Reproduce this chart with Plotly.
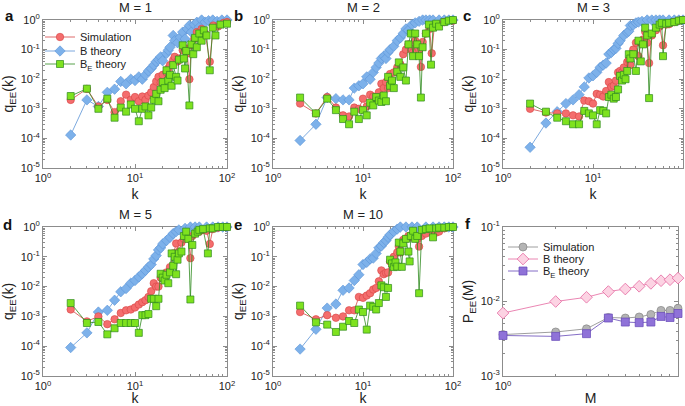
import plotly.graph_objects as go

# ---------------- data ----------------
# Panel a (M = 1)
k_a_sim = [2,3,4,5,6,7,8,9,10,11,12,13,14,15,16,17,18,19,20,22,23,24,26,27,29,30,33,35,37,39,41,44,47,50,53,58,65,71,80,92,100]
q_a_sim = [2e-3,4.7e-3,1.2e-3,2e-3,7.7e-4,1.8e-3,3e-3,2e-3,2.5e-3,1.8e-3,2.6e-3,2e-3,2.8e-3,3.6e-3,5.4e-3,8.4e-3,1.2e-2,7.7e-3,1.4e-2,1.7e-2,2.3e-2,3e-2,4.4e-2,5.7e-2,4e-2,5e-2,9.5e-2,0.11,0.074,1e-2,0.14,0.23,0.39,0.27,0.5,0.34,0.039,0.65,0.6,0.8,0.85]
k_a_b = [2,3,4,5,6,7,8,9,10,11,12,13,14,15,16,17,18,19,20,22,23,24,26,27,29,31,33,35,37,39,41,44,47,50,53,58,63,70,78,88,100]
q_a_b = [1.3e-4,2e-3,1.2e-3,3.6e-3,4.6e-3,8.4e-3,7e-3,1e-2,9e-3,1.2e-2,1e-2,1.4e-2,1.9e-2,2.3e-2,3e-2,3.9e-2,4.6e-2,5.7e-2,4.2e-2,7.4e-2,9.5e-2,0.12,0.3,0.2,0.17,0.26,0.39,0.23,0.5,0.65,0.39,0.7,0.84,0.57,1.0,0.85,0.95,1.0,0.9,1.0,1.0]
k_a_be = [2,3,4,5,6,7,8,9,10,11,12,13,14,15,16,17,18,19,20,21,22,23,24,25,26,28,29,30,33,34,35,36,39,41,43,45,47,50,53,56,60,65,70,75,85,100]
q_a_be = [2.7e-3,4.8e-3,1e-3,2.2e-3,5e-4,1.1e-3,8e-4,1.4e-3,1e-3,3.8e-4,1e-3,1.2e-3,6e-4,1.1e-3,2e-3,3.2e-3,1.8e-3,4.4e-3,8e-3,5e-3,2e-2,9e-3,1.4e-2,6e-3,3e-2,1.2e-2,9e-3,4.6e-2,0.14,0.05,0.023,0.09,1.3e-3,0.15,0.07,0.25,0.12,0.35,0.2,0.45,0.3,2e-2,0.55,0.3,0.7,0.75]

# Panel b (M = 2)
k_b_sim = [2,3,4,5,6,7,8,9,10,11,12,13,14,15,16,17,18,19,20,22,24,26,28,30,32,34,36,38,40,42,44,46,50,55,58,62,70,80,100]
q_b_sim = [1.5e-3,7e-4,2.5e-3,1.1e-3,6e-4,5.5e-4,1.1e-3,1e-3,2.2e-3,1.2e-3,3e-3,2.6e-3,2e-3,3.6e-3,7e-3,5e-3,8e-3,5e-3,1.5e-2,1.7e-2,2.5e-2,3.2e-2,7e-2,0.1,0.15,0.11,0.08,0.2,0.15,0.1,2.6e-2,0.18,0.35,0.5,7.5e-2,0.6,0.7,0.85,0.95]
k_b_b = [2,3,4,5,6,7,8,9,10,11,12,13,14,15,16,17,18,19,20,22,24,26,28,30,32,35,38,42,46,50,55,60,70,80,90,100]
q_b_b = [8.5e-5,3e-4,2.4e-3,2.2e-3,2e-3,2e-3,5e-3,6e-3,7e-3,1.2e-2,1e-2,1.7e-2,2.5e-2,3.5e-2,5e-2,6e-2,5e-2,8e-2,0.1,0.13,0.2,0.25,0.35,0.5,0.45,0.7,0.8,0.9,1.0,1.0,1.0,1.0,1.0,1.0,1.0,1.0]
k_b_be = [2,3,4,5,6,7,8,9,10,11,12,13,14,15,16,17,18,19,20,21,22,24,25,26,28,30,32,34,36,38,40,42,44,46,50,54,57,60,65,70,80,90,100]
q_b_be = [2.4e-3,7e-4,2.2e-3,9e-4,4.5e-4,3e-4,8e-4,4.5e-4,9e-4,6e-4,1.6e-3,1.3e-3,2.5e-3,1.9e-3,1.7e-3,2.8e-3,1.8e-3,1.2e-2,6e-3,9e-3,5e-3,1.8e-2,3.7e-2,1.2e-2,2.5e-2,9e-3,0.15,0.35,0.06,0.35,0.15,0.06,2.4e-3,0.12,0.35,0.7,3.1e-2,0.55,0.75,0.6,0.85,0.95,1.0]

# Panel c (M = 3)
k_c_sim = [2,3,4,5,6,7,8,9,10,11,12,13,14,15,16,17,18,19,20,21,22,24,25,26,28,30,32,34,36,38,40,42,45,50,55,60,65,70,80,90,100]
q_c_sim = [1e-3,7.5e-4,7e-4,7e-4,6e-4,5.5e-4,1.9e-3,1.8e-3,1.5e-3,3.2e-3,3e-3,2.6e-3,4e-3,8e-3,5.5e-3,6e-3,9e-3,1.7e-2,1.9e-2,1.7e-2,2.5e-2,3.8e-2,4.5e-2,3e-2,0.1,0.17,0.06,0.17,0.22,0.4,0.17,3.5e-2,0.3,0.45,0.6,0.14,0.7,0.72,0.85,0.95,1.0]
k_c_b = [2,3,4,5,6,7,8,9,10,11,12,13,14,15,16,17,18,19,20,22,24,25,26,28,30,32,35,40,45,50,55,60,70,80,90,100]
q_c_b = [5e-5,3.3e-4,8e-4,1.5e-3,2e-3,3e-3,5.5e-3,1.1e-2,1.3e-2,1.7e-2,2.5e-2,3e-2,3.5e-2,7e-2,8e-2,0.1,0.11,0.16,0.2,0.3,0.38,0.42,0.65,0.68,0.8,0.85,0.9,1.0,1.0,1.0,1.0,1.0,1.0,1.0,1.0,1.0]
k_c_be = [2,3,4,5,6,7,8,9,10,11,12,13,14,15,16,17,18,19,20,21,22,23,24,25,26,28,30,32,34,36,38,40,42,45,50,55,58,60,65,70,80,90,100]
q_c_be = [1.5e-3,8e-4,5e-4,3.8e-4,3e-4,3e-4,8.5e-4,7e-4,6e-4,3e-4,9e-4,8.5e-4,7e-4,2.5e-3,3e-3,2.2e-3,2.5e-3,4.5e-3,1.3e-2,9e-3,1.4e-2,1e-2,1.9e-2,7e-2,5e-2,7e-2,1.9e-2,0.2,4e-2,0.15,0.55,0.3,2.3e-3,0.35,0.55,0.7,0.8,6e-2,0.75,0.8,0.85,0.95,1.0]

# Panel d (M = 5)
k_d_sim = [2,3,4,5,6,7,8,9,10,11,12,13,14,15,16,17,18,19,20,22,24,26,28,30,32,34,36,38,40,42,45,50,55,60,65,70,80,100]
q_d_sim = [1.7e-3,6.8e-4,1e-3,5.5e-4,8e-4,1.3e-3,1.6e-3,1.7e-3,2e-3,2.5e-3,3e-3,3.5e-3,4.5e-3,7e-3,1.3e-2,1e-2,1e-2,2e-2,2.5e-2,3e-2,4.5e-2,0.13,0.28,0.15,0.3,0.4,0.6,0.4,9e-2,0.5,0.6,0.7,0.8,0.75,0.27,0.85,0.95,1.0]
k_d_b = [2,3,4,5,6,7,8,9,10,11,12,13,14,15,16,17,18,19,20,22,24,26,28,30,35,40,45,50,60,70,80,90,100]
q_d_b = [9e-5,2.8e-4,1.4e-3,1.6e-3,3.5e-3,6.7e-3,8.6e-3,1.3e-2,1.6e-2,2.1e-2,2.7e-2,3.5e-2,4.5e-2,5.5e-2,8.5e-2,0.11,0.17,0.2,0.27,0.35,0.45,0.6,0.7,0.8,0.9,1.0,1.0,1.0,1.0,1.0,1.0,1.0,1.0]
k_d_be = [2,3,4,5,6,7,8,9,10,11,12,13,14,15,16,17,18,19,20,21,22,23,24,25,26,27,28,29,30,32,34,36,38,40,42,45,48,50,55,62,65,70,80,90,100]
q_d_be = [2.8e-3,6e-4,6.5e-4,2.5e-4,4e-4,6e-4,6e-4,6e-4,6e-4,2.8e-4,1.1e-3,1.1e-3,1.2e-3,3.9e-3,3.9e-3,2.2e-3,3.9e-3,2.7e-2,2e-2,1.6e-2,2.5e-2,1.3e-2,3e-2,0.13,5e-2,0.1,2.6e-2,8e-2,0.13,0.15,0.5,0.7,0.4,3.7e-3,0.25,0.6,0.7,0.8,0.85,0.13,0.9,0.9,1.0,1.0,1.0]

# Panel e (M = 10)
k_e_sim = [2,3,4,5,6,7,8,9,10,11,12,13,14,15,16,17,18,19,20,22,24,25,26,28,30,32,34,36,38,40,42,45,50,60,65,70,80,100]
q_e_sim = [1.4e-3,8e-4,1.1e-3,9e-4,1e-3,1.6e-3,1.6e-3,4.5e-3,4.2e-3,5e-3,6e-3,8e-3,9e-3,1.5e-2,3.5e-2,2.6e-2,2.9e-2,3e-2,7e-2,0.1,0.14,0.22,0.14,0.37,0.4,0.5,0.45,0.55,0.5,0.4,0.22,0.5,0.6,0.6,0.65,0.7,0.9,1.0]
k_e_b = [2,3,4,5,6,7,8,9,10,11,12,13,14,15,16,17,18,19,20,22,24,26,30,35,40,50,60,70,80,90,100]
q_e_b = [8e-5,3.7e-4,1.9e-3,2.6e-3,7.5e-3,9e-3,1.6e-2,2.5e-2,5.5e-2,6.5e-2,8.5e-2,9e-2,0.13,0.2,0.23,0.3,0.35,0.45,0.55,0.7,0.85,1.0,1.0,1.0,1.0,1.0,1.0,1.0,1.0,1.0,1.0]
k_e_be = [2,3,4,5,6,7,8,9,10,11,12,13,14,15,16,17,18,19,20,21,22,23,24,25,26,27,28,30,32,33,34,36,38,40,42,45,50,55,60,65,70,80,90,100]
q_e_be = [2.3e-3,6.3e-4,5.3e-4,3e-4,4.5e-4,7e-4,6e-4,1.7e-3,1.4e-3,3.6e-4,2.3e-3,2.1e-3,1.7e-3,2.8e-3,1.1e-2,9.5e-3,4.5e-3,9e-3,8e-2,6e-2,4.5e-2,6.5e-2,4.7e-2,0.3,0.15,4.6e-2,0.28,0.4,0.15,7e-2,0.5,0.75,0.4,0.5,6e-3,0.8,0.85,0.9,0.45,0.9,0.95,0.95,1.0,1.0]

# Panel f
M_vals = [1,2,3,4,5,6,7,8,9,10]
p_sim = [3.6e-3,3.9e-3,4.3e-3,6.1e-3,6e-3,6.2e-3,6.7e-3,7.6e-3,7.6e-3,8.1e-3]
p_b = [7e-3,1e-2,1.14e-2,1.36e-2,1.47e-2,1.6e-2,1.75e-2,1.9e-2,1.96e-2,2.06e-2]
p_be = [3.5e-3,3.4e-3,3.7e-3,6e-3,5.3e-3,5.2e-3,5.3e-3,6.3e-3,6.1e-3,6.9e-3]

# tick labels
k_tickvals = [1, 10, 100]
k_ticktext = ["10<sup>0</sup>", "10<sup>1</sup>", "10<sup>2</sup>"]
q_tickvals = [1e-5, 1e-4, 1e-3, 1e-2, 1e-1, 1]
q_ticktext = ["10<sup>-5</sup>", "10<sup>-4</sup>", "10<sup>-3</sup>", "10<sup>-2</sup>", "10<sup>-1</sup>", "10<sup>0</sup>"]
m_tickvals = [1, 10]
m_ticktext = ["10<sup>0</sup>", "10<sup>1</sup>"]
p_tickvals = [1e-3, 1e-2, 1e-1]
p_ticktext = ["10<sup>-3</sup>", "10<sup>-2</sup>", "10<sup>-1</sup>"]

panel_letters = ["a", "b", "c", "d", "e", "f"]
panel_titles = ["M = 1", "M = 2", "M = 3", "M = 5", "M = 10"]
series_names = ["Simulation", "B theory", "B<sub>E</sub> theory"]

# ---------------- figure ----------------
W, H = 685, 406
FONT = "Liberation Sans, Arial, Helvetica, sans-serif"

def px_x(a, b):
    return [a / W, b / W]

def px_y(top, bottom):
    return [1 - bottom / H, 1 - top / H]

def minor_log(decades):
    # minor tick positions 2..9 times each decade start
    return [m * 10.0 ** d for d in decades for m in range(2, 10)]

x_doms = [px_x(43, 227), px_x(273, 453), px_x(503, 683),
          px_x(43, 227), px_x(273, 453), px_x(503, 678)]
y_doms = [px_y(20, 168)] * 3 + [px_y(227, 376)] * 3

RED, RED_E = "#f46d6d", "#d64545"
BLUE, BLUE_E = "#7db1ea", "#5b93d6"
GREEN, GREEN_E = "#7ee21e", "#2e8a1e"
GRAY, GRAY_E = "#b4b4b4", "#858585"
PINK, PINK_E = "#fcd3e3", "#e4679f"
PURP, PURP_E = "#8f72d8", "#6548b8"

fig = go.Figure()

data_panels = [
    (k_a_sim, q_a_sim, k_a_b, q_a_b, k_a_be, q_a_be),
    (k_b_sim, q_b_sim, k_b_b, q_b_b, k_b_be, q_b_be),
    (k_c_sim, q_c_sim, k_c_b, q_c_b, k_c_be, q_c_be),
    (k_d_sim, q_d_sim, k_d_b, q_d_b, k_d_be, q_d_be),
    (k_e_sim, q_e_sim, k_e_b, q_e_b, k_e_be, q_e_be),
]

for i, (ks, qs, kb, qb, kbe, qbe) in enumerate(data_panels):
    s = "" if i == 0 else str(i + 1)
    show = i == 0
    fig.add_trace(go.Scatter(
        x=kb, y=qb, mode="lines+markers", name=series_names[1], legend="legend2",
        showlegend=show, xaxis="x" + s, yaxis="y" + s, cliponaxis=False,
        line=dict(color=BLUE_E, width=0.8),
        marker=dict(symbol="diamond", size=8, color=BLUE, line=dict(color=BLUE_E, width=0.6))))
    fig.add_trace(go.Scatter(
        x=ks, y=qs, mode="lines+markers", name=series_names[0], legend="legend",
        showlegend=show, xaxis="x" + s, yaxis="y" + s, cliponaxis=False,
        line=dict(color=RED_E, width=0.8),
        marker=dict(symbol="circle", size=7.5, color=RED, line=dict(color=RED_E, width=0.6))))
    fig.add_trace(go.Scatter(
        x=kbe, y=qbe, mode="lines+markers", name=series_names[2], legend="legend3",
        showlegend=show, xaxis="x" + s, yaxis="y" + s, cliponaxis=False,
        line=dict(color=GREEN_E, width=0.8),
        marker=dict(symbol="square", size=7, color=GREEN, line=dict(color=GREEN_E, width=0.7))))

# panel f
fig.add_trace(go.Scatter(
    x=M_vals, y=p_sim, mode="lines+markers", name=series_names[0], legend="legend4",
    xaxis="x6", yaxis="y6", cliponaxis=False,
    line=dict(color=GRAY_E, width=0.8),
    marker=dict(symbol="circle", size=8, color=GRAY, line=dict(color=GRAY_E, width=0.7))))
fig.add_trace(go.Scatter(
    x=M_vals, y=p_b, mode="lines+markers", name=series_names[1], legend="legend5",
    xaxis="x6", yaxis="y6", cliponaxis=False,
    line=dict(color=PINK_E, width=0.8),
    marker=dict(symbol="diamond", size=9, color=PINK, line=dict(color=PINK_E, width=0.8))))
fig.add_trace(go.Scatter(
    x=M_vals, y=p_be, mode="lines+markers", name=series_names[2], legend="legend6",
    xaxis="x6", yaxis="y6", cliponaxis=False,
    line=dict(color=PURP_E, width=0.8),
    marker=dict(symbol="square", size=8, color=PURP, line=dict(color=PURP_E, width=0.7))))

axis_common = dict(
    type="log", showgrid=False, zeroline=False, showline=True, mirror="ticks",
    linecolor="#8c8c8c", linewidth=1, ticks="inside", ticklen=4, tickcolor="#8c8c8c",
    tickfont=dict(family=FONT, size=11, color="#222"),
    automargin=False, layer="below traces",
)

def minor_spec(decades):
    return dict(ticks="inside", ticklen=2, tickcolor="#8c8c8c", showgrid=False,
                tickmode="array", tickvals=minor_log(decades))

def legend_at(x_px, y_px):
    return dict(x=x_px / W, y=1 - y_px / H, xanchor="left", yanchor="middle",
                bgcolor="rgba(0,0,0,0)", font=dict(size=11, family=FONT, color="#222"),
                itemwidth=30, tracegroupgap=0)

layout = dict(
    width=W, height=H, margin=dict(l=0, r=0, t=0, b=0),
    paper_bgcolor="white", plot_bgcolor="white",
    font=dict(family=FONT, size=11, color="#222"),
    legend=legend_at(40, 37),
    legend2=legend_at(40, 51),
    legend3=legend_at(40, 64),
    legend4=legend_at(503, 247),
    legend5=legend_at(503, 259),
    legend6=legend_at(503, 271),
)

for i in range(6):
    s = "" if i == 0 else str(i + 1)
    xa = dict(axis_common, domain=x_doms[i], anchor="y" + s)
    ya = dict(axis_common, domain=y_doms[i], anchor="x" + s)
    if i < 5:
        xa.update(range=[0, 2], tickvals=k_tickvals, ticktext=k_ticktext,
                  minor=minor_spec([0, 1]),
                  title=dict(text="k", font=dict(size=14, family=FONT), standoff=5))
        ya.update(range=[-5, 0], tickvals=q_tickvals, ticktext=q_ticktext,
                  minor=minor_spec([-5, -4, -3, -2, -1]),
                  title=dict(text="q<sub>EE</sub>(k)", font=dict(size=14, family=FONT), standoff=3))
    else:
        xa.update(range=[0, 1], tickvals=m_tickvals, ticktext=m_ticktext,
                  minor=minor_spec([0]),
                  title=dict(text="M", font=dict(size=14, family=FONT), standoff=5))
        ya.update(range=[-3, -1], tickvals=p_tickvals, ticktext=p_ticktext,
                  minor=minor_spec([-3, -2]),
                  title=dict(text="P<sub>EE</sub>(M)", font=dict(size=14, family=FONT), standoff=3))
    layout["xaxis" + s] = xa
    layout["yaxis" + s] = ya

annotations = []
letter_pos = [(9, 15), (238, 15), (467, 15), (8, 224), (238, 224), (468, 223)]
for i, (lx, ly) in enumerate(letter_pos):
    annotations.append(dict(text="<b>" + panel_letters[i] + "</b>", x=lx / W, y=1 - ly / H,
                            xref="paper", yref="paper", showarrow=False,
                            font=dict(size=15, family=FONT, color="#111"),
                            xanchor="center", yanchor="middle"))
for i, t in enumerate(panel_titles):
    xd = x_doms[i]
    ty = 7 if i < 3 else 214
    annotations.append(dict(text=t, x=(xd[0] + xd[1]) / 2, y=1 - ty / H,
                            xref="paper", yref="paper", showarrow=False,
                            font=dict(size=13, family=FONT, color="#222"),
                            xanchor="center", yanchor="middle"))
layout["annotations"] = annotations

fig.update_layout(**layout)
fig.write_html("out.html", config={"displayModeBar": False},
               post_script="document.body.style.margin='0px';")
